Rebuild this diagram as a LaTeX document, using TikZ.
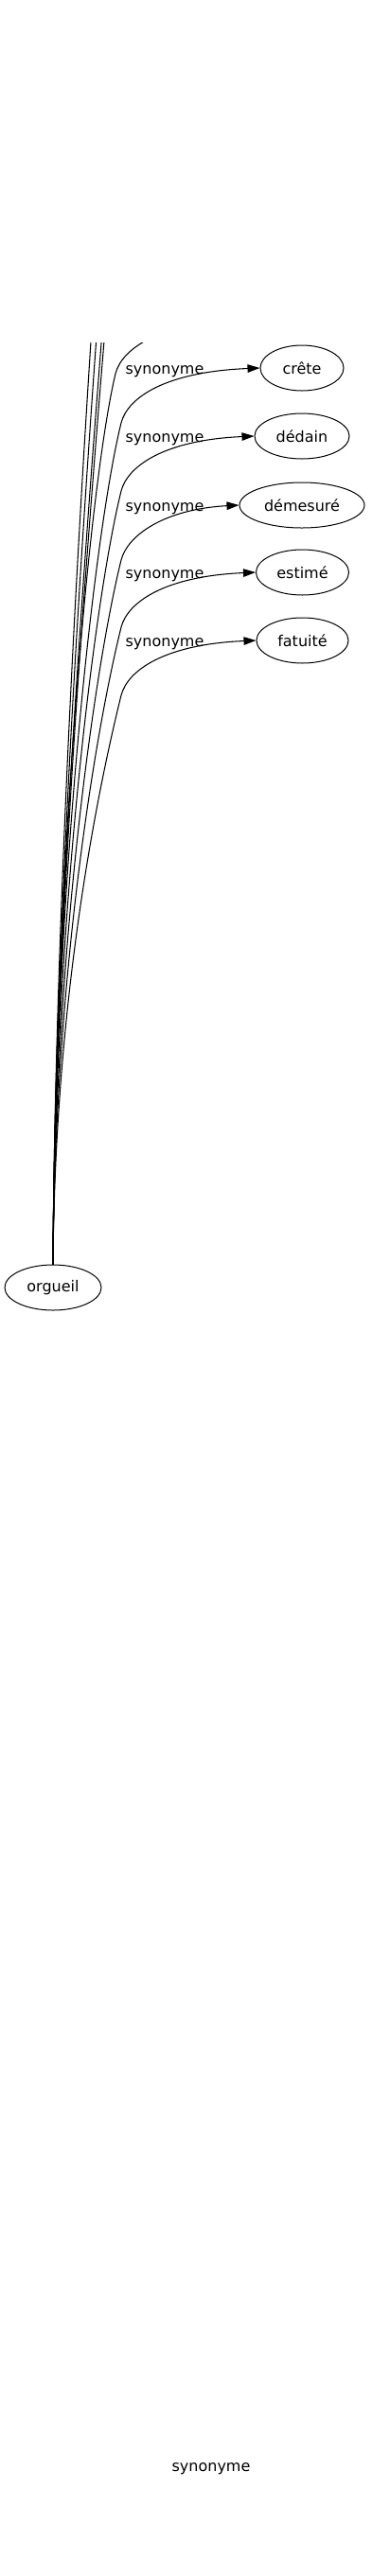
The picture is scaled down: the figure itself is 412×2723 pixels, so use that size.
\documentclass[tikz,border=0pt]{standalone}
\usepackage{fontspec}
\setmainfont{DejaVu Sans}
\usetikzlibrary{shapes.geometric,arrows.meta}
\begin{document}
\begin{tikzpicture}[x=1pt,y=-1pt,
  word/.style={ellipse,draw,line width=1pt,inner sep=0pt,minimum height=48pt,font=\fontsize{16}{19}\selectfont},
  rel/.style={line width=1.05pt},
  lab/.style={font=\fontsize{16}{19}\selectfont,inner sep=0pt},
  tip/.style={-{Triangle[length=13pt,width=8.5pt]}}]
\useasboundingbox (0,0) rectangle (412,2723);

\node[word,minimum width=88pt]  (crete)    at (319,389)   {crête};
\node[word,minimum width=100pt] (dedain)   at (319,461)   {dédain};
\node[word,minimum width=132pt] (demesure) at (319,534)   {démesuré};
\node[word,minimum width=98pt]  (estime)   at (319.5,605) {estimé};
\node[word,minimum width=97pt]  (fatuite)  at (319.5,677) {fatuité};
\node[word,minimum width=102pt] (orgueil)  at (56,1361)   {orgueil};

\coordinate (hd) at (256,338);
\coordinate (ha) at (100,300);
\coordinate (hb) at (106,300);
\coordinate (hc) at (112,300);
\coordinate (he) at (115,300);

\begin{scope}
\clip (0,362) rectangle (412,2723);
\draw[rel] (orgueil.north) .. controls (58,1000) and (80,600) .. (ha);
\draw[rel] (orgueil.north) .. controls (58,1000) and (84,600) .. (hb);
\draw[rel] (orgueil.north) .. controls (58,1000) and (88,600) .. (hc);
\draw[rel] (orgueil.north) .. controls (58,1000) and (90,600) .. (he);
\draw[rel] (orgueil.north) .. controls (58,913) and (95,508) .. (122,395)
  .. controls (129,368) and (169,341) .. (hd);
\end{scope}

\draw[rel,tip] (orgueil.north) .. controls (58,936) and (100,560) .. (128,447)
  .. controls (135,420) and (175,393) .. (crete.west);
\draw[rel,tip] (orgueil.north) .. controls (58,969) and (100,632) .. (128,519)
  .. controls (135,492) and (175,465) .. (dedain.west);
\draw[rel,tip] (orgueil.north) .. controls (58,1002) and (100,705) .. (128,592)
  .. controls (135,565) and (175,538) .. (demesure.west);
\draw[rel,tip] (orgueil.north) .. controls (58,1034) and (100,776) .. (128,663)
  .. controls (135,636) and (175,609) .. (estime.west);
\draw[rel,tip] (orgueil.north) .. controls (58,1066) and (100,848) .. (128,735)
  .. controls (135,708) and (175,681) .. (fatuite.west);

\node[lab] (l1) at (174,392.5) {synonyme};
\node[lab] (l2) at (174,464.5) {synonyme};
\node[lab] (l3) at (174,537.5) {synonyme};
\node[lab] (l4) at (174,608.5) {synonyme};
\node[lab] (l5) at (174,680.5) {synonyme};
\node[lab] (l6) at (223,2610) {synonyme};
\end{tikzpicture}
\end{document}
